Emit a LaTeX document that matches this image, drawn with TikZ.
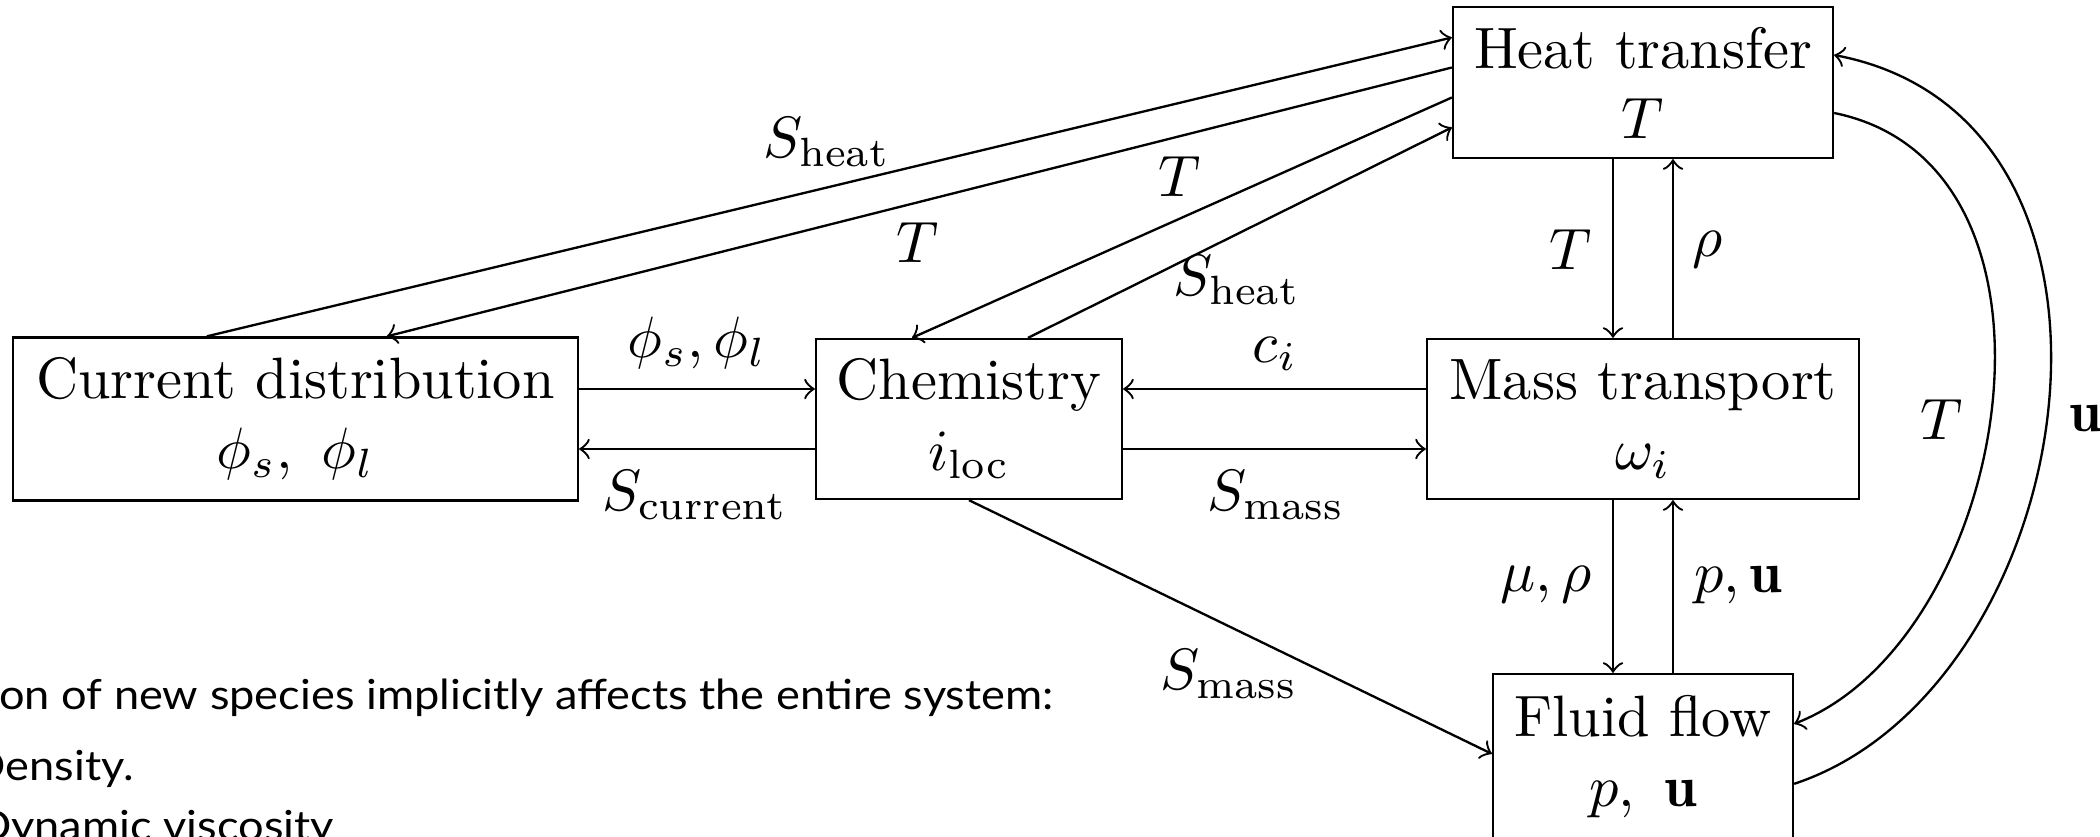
\documentclass[tikz,border=0pt]{standalone}
\usepackage{amsmath}
\usepackage{fontspec}
\newfontfamily\notefont{Lato}[FakeStretch=1.09]
\usetikzlibrary{calc}
\begin{document}
\begin{tikzpicture}[x=0.1713pt,y=-0.1713pt,
  box/.style={draw, line width=0.4pt, inner sep=0pt, align=center},
  lbl/.style={inner sep=0pt},
  arr/.style={->, line width=0.4pt},
  note/.style={inner sep=0pt, font=\notefont\fontsize{7.1}{8}\selectfont}]
\path[use as bounding box] (0,0) rectangle (2100,837);
\clip (0,0) rectangle (2100,837);
% boxes
\node[box, minimum width=65.09pt, minimum height=25.87pt] (heat) at (1643,82.5) {Heat transfer\\$T$};
\node[box, minimum width=96.78pt, minimum height=27.92pt] (cur) at (295.5,419) {Current distribution\\$\phi_s,\ \phi_l$};
\node[box, minimum width=52.42pt, minimum height=27.41pt] (chem) at (969,419) {Chemistry\\$i_\text{loc}$};
\node[box, minimum width=74.00pt, minimum height=27.41pt] (mass) at (1643,419) {Mass transport\\$\omega_i$};
\node[box, minimum width=51.39pt, minimum height=28.44pt] (fluid) at (1643,757) {Fluid flow\\$p,\ \mathbf{u}$};
% connectors to/from heat transfer
\draw[arr] ($(cur.north west)+(195,0)$) -- ($(heat.west)+(0,-45)$);
\draw[arr] ($(heat.west)+(0,-15)$) -- ($(cur.north west)+(375,0)$);
\draw[arr] ($(heat.west)+(0,15)$) -- ($(chem.north)+(-57,0)$);
\draw[arr] ($(chem.north)+(59,0)$) -- ($(heat.west)+(0,45)$);
% middle row
\draw[arr] ($(cur.east)+(0,-30)$) -- ($(chem.west)+(0,-30)$);
\draw[arr] ($(chem.west)+(0,30)$) -- ($(cur.east)+(0,30)$);
\draw[arr] ($(mass.west)+(0,-30)$) -- ($(chem.east)+(0,-30)$);
\draw[arr] ($(chem.east)+(0,30)$) -- ($(mass.west)+(0,30)$);
% verticals
\draw[arr] ($(heat.south)+(-30,0)$) -- ($(mass.north)+(-30,0)$);
\draw[arr] ($(mass.north)+(30,0)$) -- ($(heat.south)+(30,0)$);
\draw[arr] ($(mass.south)+(-30,0)$) -- ($(fluid.north)+(-30,0)$);
\draw[arr] ($(fluid.north)+(30,0)$) -- ($(mass.south)+(30,0)$);
% chemistry to fluid
\draw[arr] (chem.south) -- ($(fluid.north west)+(0,81)$);
% curves
\draw[arr] ($(heat.east)+(0,30.5)$) .. controls +(257,52) and +(217,-85) .. ($(fluid.north east)+(0,51)$);
\draw[arr] ($(fluid.north east)+(0,111)$) .. controls +(287,-95) and +(337,65) .. ($(heat.east)+(0,-27.5)$);
% labels
\node[lbl] (l1) at (827,142) {$S_\text{heat}$};
\node[lbl] (l2) at (918,243) {$T$};
\node[lbl] (l3) at (1180,177) {$T$};
\node[lbl] (l4) at (1237,280) {$S_\text{heat}$};
\node[lbl] (l5) at (697,343) {$\phi_s, \phi_l$};
\node[lbl] (l6) at (695,495) {$S_\text{current}$};
\node[lbl] (l7) at (1275,354) {$c_i$};
\node[lbl] (l8) at (1276,495) {$S_\text{mass}$};
\node[lbl] (l9) at (1571,250) {$T$};
\node[lbl] (l10) at (1708,250) {$\rho$};
\node[lbl] (l11) at (1546,585) {$\mu, \rho$};
\node[lbl] (l12) at (1738,585) {$p, \mathbf{u}$};
\node[lbl] (l13) at (1229,674) {$S_\text{mass}$};
\node[lbl] (l14) at (1942,420) {$T$};
\node[lbl] (l15) at (2086,419) {$\mathbf{u}$};
% slide text
\node[note, anchor=base west] (n1) at (-2,709) {on of new species implicitly affects the entire system:};
\node[note, anchor=base east] (n2) at (135,780) {Density.};
\node[note, anchor=base east] (n3) at (335,840) {Dynamic viscosity};
\end{tikzpicture}
\end{document}
